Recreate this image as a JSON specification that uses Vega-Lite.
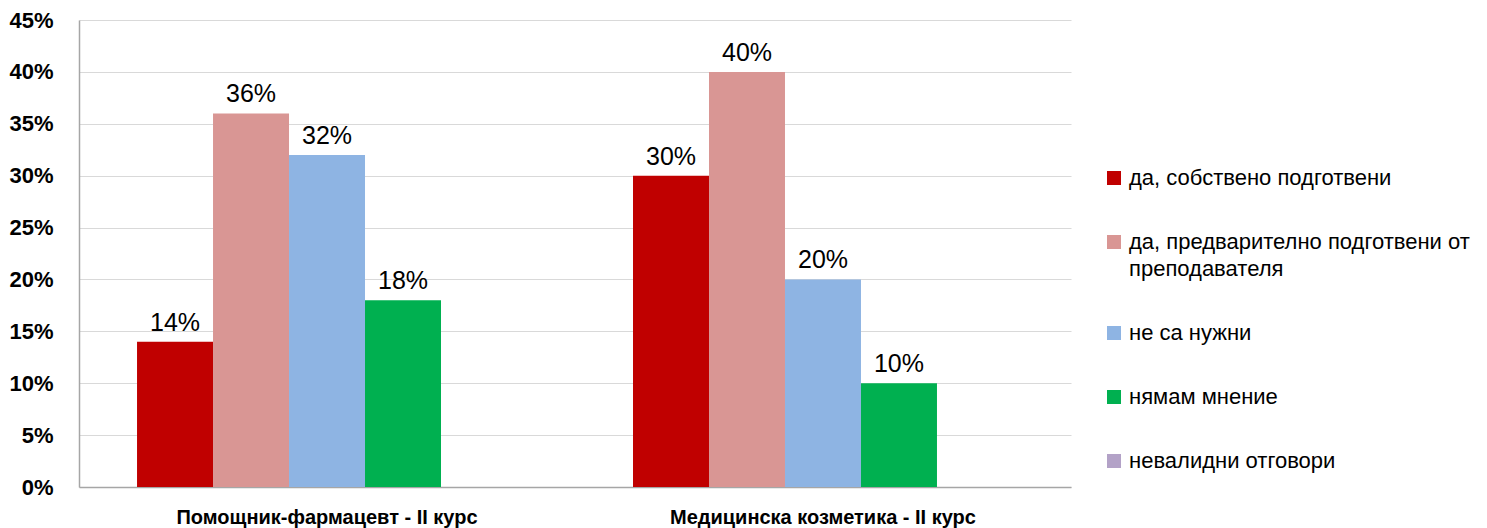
{
  "$schema": "https://vega.github.io/schema/vega-lite/v6.json",
  "autosize": {"type": "none"},
  "padding": {"left": 79, "top": 20, "right": 416, "bottom": 41},
  "width": 992,
  "height": 467,
  "config": {
    "font": "Liberation Sans",
    "view": {"stroke": null},
    "background": "white"
  },
  "data": {
    "values": [
      {"group": "Помощник-фармацевт - II курс", "answer": "да, собствено подготвени", "value": 0.14},
      {"group": "Помощник-фармацевт - II курс", "answer": "да, предварително подготвени от преподавателя", "value": 0.36},
      {"group": "Помощник-фармацевт - II курс", "answer": "не са нужни", "value": 0.32},
      {"group": "Помощник-фармацевт - II курс", "answer": "нямам мнение", "value": 0.18},
      {"group": "Помощник-фармацевт - II курс", "answer": "невалидни отговори", "value": 0},
      {"group": "Медицинска козметика - II курс", "answer": "да, собствено подготвени", "value": 0.30},
      {"group": "Медицинска козметика - II курс", "answer": "да, предварително подготвени от преподавателя", "value": 0.40},
      {"group": "Медицинска козметика - II курс", "answer": "не са нужни", "value": 0.20},
      {"group": "Медицинска козметика - II курс", "answer": "нямам мнение", "value": 0.10},
      {"group": "Медицинска козметика - II курс", "answer": "невалидни отговори", "value": 0}
    ]
  },
  "encoding": {
    "x": {
      "field": "group", "type": "nominal",
      "sort": ["Помощник-фармацевт - II курс", "Медицинска козметика - II курс"],
      "scale": {"paddingInner": 0.2339, "paddingOuter": 0.117},
      "axis": {
        "title": null, "labelAngle": 0, "labelFontWeight": "bold", "labelFontSize": 20,
        "labelColor": "#000000", "ticks": false, "labelPadding": 20, "labelLimit": 0,
        "domainColor": "#a6a6a6", "domainWidth": 1.5
      }
    },
    "xOffset": {
      "field": "answer", "type": "nominal",
      "sort": ["да, собствено подготвени", "да, предварително подготвени от преподавателя", "не са нужни", "нямам мнение", "невалидни отговори"],
      "scale": {"paddingInner": 0, "paddingOuter": 0}
    },
    "y": {
      "field": "value", "type": "quantitative",
      "scale": {"domain": [0, 0.45], "nice": false},
      "axis": {
        "title": null, "format": ".0%", "values": [0, 0.05, 0.1, 0.15, 0.2, 0.25, 0.3, 0.35, 0.4, 0.45],
        "labelFontWeight": "bold", "labelFontSize": 22, "labelColor": "#000000",
        "ticks": false, "labelPadding": 26, "gridColor": "#d9d9d9", "gridWidth": 1,
        "domainColor": "#a6a6a6", "domainWidth": 1.5
      }
    }
  },
  "layer": [
    {
      "mark": {"type": "bar"},
      "encoding": {
        "color": {
          "field": "answer", "type": "nominal",
          "sort": ["да, собствено подготвени", "да, предварително подготвени от преподавателя", "не са нужни", "нямам мнение", "невалидни отговори"],
          "scale": {
            "domain": ["да, собствено подготвени", "да, предварително подготвени от преподавателя", "не са нужни", "нямам мнение", "невалидни отговори"],
            "range": ["#C00000", "#D99694", "#8EB4E3", "#00B050", "#B3A2C7"]
          },
          "legend": {
            "title": null, "orient": "none", "legendX": 1024, "legendY": 147,
            "padding": 0, "symbolType": "square", "symbolSize": 196, "symbolStrokeWidth": 0,
            "labelFontSize": 22, "labelColor": "#000000", "labelOffset": 4, "labelLimit": 400,
            "rowPadding": 42, "labelBaseline": "middle",
            "labelExpr": "datum.label == 'да, предварително подготвени от преподавателя' ? ['да, предварително подготвени от', 'преподавателя'] : datum.label",
            "encode": {"labels": {"update": {"lineHeight": {"value": 27}}}}
          }
        }
      }
    },
    {
      "transform": [{"filter": "datum.value > 0"}],
      "mark": {"type": "text", "baseline": "alphabetic", "dy": -11, "fontSize": 25, "color": "#000000"},
      "encoding": {
        "text": {"field": "value", "type": "quantitative", "format": ".0%"}
      }
    }
  ]
}
